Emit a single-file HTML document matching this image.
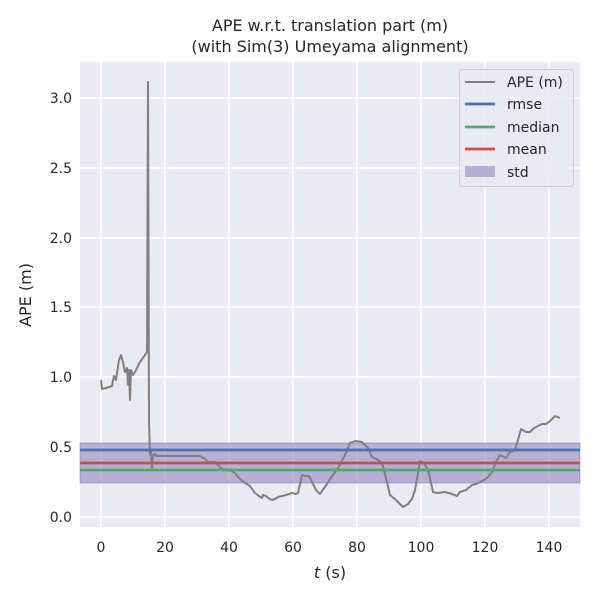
<!DOCTYPE html>
<html><head><meta charset="utf-8"><style>body{margin:0;background:#fff}svg text{font-family:"DejaVu Sans","Liberation Sans",sans-serif;fill:#262626}</style></head><body>
<svg width="600" height="600" xmlns="http://www.w3.org/2000/svg">
<rect x="80" y="62" width="500" height="465" fill="#eaeaf2"/>
<g stroke="#fff" stroke-width="1.5">
<line x1="101" y1="62" x2="101" y2="527"/><line x1="165" y1="62" x2="165" y2="527"/><line x1="229" y1="62" x2="229" y2="527"/><line x1="293" y1="62" x2="293" y2="527"/><line x1="357" y1="62" x2="357" y2="527"/><line x1="421" y1="62" x2="421" y2="527"/><line x1="485" y1="62" x2="485" y2="527"/><line x1="549" y1="62" x2="549" y2="527"/>
<line x1="80" y1="517" x2="580" y2="517"/><line x1="80" y1="447" x2="580" y2="447"/><line x1="80" y1="377" x2="580" y2="377"/><line x1="80" y1="307" x2="580" y2="307"/><line x1="80" y1="238" x2="580" y2="238"/><line x1="80" y1="168" x2="580" y2="168"/><line x1="80" y1="98" x2="580" y2="98"/>
</g>
<rect x="80" y="443" width="500" height="40" fill="#8172b3" fill-opacity="0.5" stroke="#8172b3" stroke-opacity="0.5"/>
<polyline fill="none" stroke="#808080" stroke-width="2" stroke-linejoin="round" points="101,380 102,389 106,388 112,386 114,376 116,380 117,373 119,360 121,355 123,362 125,372 127,368 128,385 129,370 130,400 131,370 133,375 135,372 140,362 147,352 148,82 149,420 150,455 151,452 152,470 153,455 155,454 156,456 200,456 205,459 208,462 215,462 218,465 222,469 230,470 235,473 240,479 245,483 250,486 255,493 259,496 262,498 263,495 266,496 268,498 272,500 275,499 278,497 282,496 286,495 289,494 292,493 296,494 298,493 302,475 305,476 309,476 312,482 316,490 320,494 322,491 327,484 330,479 333,475 338,468 345,455 350,443 355,441 362,442 368,448 372,457 378,460 382,463 386,478 390,495 396,500 403,507 408,504 412,499 415,490 420,461 424,463 428,470 433,492 437,493 445,492 452,494 457,496 460,492 466,490 472,485 476,484 480,482 484,480 488,477 492,472 496,462 500,455 506,458 510,452 515,450 518,440 521,429 526,432 530,432 534,428 538,426 542,424 546,424 550,421 555,416 560,418"/>
<line x1="80" y1="450" x2="580" y2="450" stroke="#4c72b0" stroke-width="2.8"/>
<line x1="80" y1="470" x2="580" y2="470" stroke="#55a868" stroke-width="2.8"/>
<line x1="80" y1="463" x2="580" y2="463" stroke="#c44e52" stroke-width="2.8"/>
<g font-size="14" text-anchor="middle">
<text x="101" y="552">0</text><text x="165" y="552">20</text><text x="229" y="552">40</text><text x="293" y="552">60</text><text x="357" y="552">80</text><text x="421" y="552">100</text><text x="485" y="552">120</text><text x="549" y="552">140</text>
</g>
<g font-size="14" text-anchor="end">
<text x="72" y="522">0.0</text><text x="72" y="452">0.5</text><text x="72" y="382">1.0</text><text x="72" y="312">1.5</text><text x="72" y="243">2.0</text><text x="72" y="173">2.5</text><text x="72" y="103">3.0</text>
</g>
<text x="330" y="578" font-size="16" text-anchor="middle"><tspan font-style="italic">t</tspan> (s)</text>
<text transform="translate(31,295) rotate(-90)" font-size="16" text-anchor="middle">APE (m)</text>
<text x="330" y="31" font-size="16" text-anchor="middle">APE w.r.t. translation part (m)</text>
<text x="330" y="52" font-size="16" text-anchor="middle">(with Sim(3) Umeyama alignment)</text>
<rect x="459.5" y="69.5" width="114" height="117" rx="3" fill="#eaeaf2" fill-opacity="0.8" stroke="#ccc"/>
<line x1="465" y1="82" x2="495" y2="82" stroke="#808080" stroke-width="2"/>
<line x1="465" y1="104" x2="495" y2="104" stroke="#4c72b0" stroke-width="2.8"/>
<line x1="465" y1="127" x2="495" y2="127" stroke="#55a868" stroke-width="2.8"/>
<line x1="465" y1="149" x2="495" y2="149" stroke="#c44e52" stroke-width="2.8"/>
<rect x="465" y="166" width="30" height="11" fill="#8172b3" fill-opacity="0.5"/>
<g font-size="14"><text x="507" y="87">APE (m)</text><text x="507" y="109">rmse</text><text x="507" y="132">median</text><text x="507" y="154">mean</text><text x="507" y="177">std</text></g>
</svg>
</body></html>
